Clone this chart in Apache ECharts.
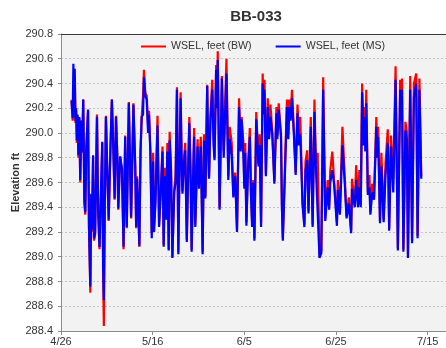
<!DOCTYPE html>
<html>
<head>
<meta charset="utf-8">
<script src="https://cdn.jsdelivr.net/npm/echarts@6/dist/echarts.min.js"></script>
<style>
  html, body { margin: 0; padding: 0; background: #ffffff; }
  #chart { width: 446px; height: 348px; }
</style>
</head>
<body>
<div id="chart"></div>
<script>
// Water surface elevation record, BB-033 (days counted from 4/26)
const dayOffsets = [
  2.3, 2.55, 2.7, 2.85, 3.0, 3.15, 3.3, 3.45, 3.6, 3.8, 4.0, 4.2, 4.45, 4.6, 4.85,
  5.1, 5.3, 5.5, 5.9, 6.1, 6.4, 6.6, 6.75, 7.0, 7.2, 7.45, 7.85, 8.1, 8.4, 8.7,
  9.0, 9.2, 9.35, 9.55, 9.8, 10.1, 10.4, 10.8, 11.1, 11.4, 11.7, 12.0, 12.3, 12.5, 12.9,
  13.3, 13.65, 14.0, 14.35, 14.8, 15.3, 15.8, 16.2, 16.4, 16.6, 16.9, 17.1, 17.35, 17.6, 17.9,
  18.1, 18.4, 18.7, 19.0, 19.2, 19.5, 19.8,
  20.1, 20.3, 20.6, 21.06, 21.4, 21.8, 22.15, 22.4, 22.7, 22.95, 23.2, 23.5, 23.7, 24.0, 24.3,
  24.7, 25.0, 25.3, 25.6, 25.85, 26.1, 26.35, 26.5, 26.8, 27.1, 27.45, 27.75, 28.0, 28.3, 28.5,
  28.8, 29.05, 29.3, 29.8, 30.1, 30.5, 30.9, 31.2, 31.5, 31.9, 32.1, 32.3, 32.6, 33.0, 33.3,
  33.5, 33.85, 34.05, 34.2, 34.6, 35.1, 35.5, 36.1, 36.5, 36.8, 37.25, 37.6, 38.0, 38.4, 38.85,
  39.2, 39.4, 39.8, 40.0,
  40.2, 40.45, 40.8, 41.2, 41.45, 41.7, 41.95, 42.2, 42.6, 43.1, 43.35, 43.65, 44.0, 44.2, 44.4,
  44.7, 45.1, 45.4, 45.7, 46.1, 46.55, 47.0, 47.2, 47.5, 48.0, 48.2, 48.4, 48.8, 49.3, 49.6,
  49.8, 50.1, 50.4, 50.8, 51.2, 51.6, 51.9, 52.2, 52.7, 53.1, 53.35, 53.7, 54.0, 54.5, 54.9,
  55.3, 55.6, 56.0, 56.4, 56.8, 57.2, 57.65, 58.2, 58.5, 58.75, 59.2, 59.6, 60.2,
  60.4, 60.85, 61.4, 61.9, 62.3, 62.8, 63.3, 63.5, 63.76, 64.1, 64.4, 64.8, 65.1, 65.4, 65.7,
  66.0, 66.2, 66.4, 66.6, 66.95, 67.3, 67.5, 67.9, 68.3, 68.8, 69.0, 69.2, 69.6, 69.9, 70.4,
  70.8, 71.3, 71.6, 72.0, 72.5, 73.0, 73.5, 74.0, 74.2, 74.4, 74.7, 75.15, 75.45, 75.7, 76.2,
  76.6, 77.0, 77.5, 77.8, 78.2, 78.6
];

// WSEL, feet (BW)
const wselBW = [
  290.27, 290.10, 290.42, 290.13, 290.46, 290.08, 290.18, 289.92, 290.14, 289.80, 290.12, 289.60, 290.08, 289.84, 290.27,
  289.44, 289.34, 289.85, 290.18, 289.24, 288.71, 289.50, 289.20, 289.81, 289.13, 289.18, 290.15, 289.36, 289.06, 289.48,
  289.92, 288.80, 288.44, 289.38, 290.14, 289.68, 289.29, 289.88, 290.27, 289.88, 289.46, 290.14, 289.78, 289.38, 289.81,
  289.70, 289.06, 289.98, 289.23, 290.25, 289.31, 290.24, 289.72, 289.23, 289.65, 289.32, 289.08, 289.85, 290.12, 290.30,
  290.51, 290.32, 290.30, 290.05, 290.18, 289.85, 289.19,
  289.84, 289.25, 289.45, 290.14, 289.26, 289.56, 289.89, 289.10, 289.72, 289.32, 289.92, 289.06, 290.01, 289.72, 289.00,
  289.54, 289.65, 290.37, 289.04, 289.72, 290.33, 289.72, 289.53, 289.78, 289.92, 289.14, 289.72, 290.13, 289.62, 289.06,
  289.62, 290.04, 289.26, 289.95, 289.58, 289.97, 289.04, 289.99, 289.49, 290.39, 289.92, 289.65, 290.12, 290.43, 289.95,
  289.80, 290.55, 290.25, 290.66, 289.40, 290.46, 289.85, 290.60, 289.65, 290.05, 289.92, 289.50, 289.68, 289.22, 290.28,
  289.88, 290.13, 289.92, 289.57,
  289.92, 289.28, 289.72, 290.04, 289.52, 289.27, 289.62, 289.15, 290.17, 289.75, 289.99, 289.27, 290.48, 290.18, 290.43,
  289.67, 290.28, 289.98, 290.23, 290.00, 289.61, 290.21, 289.98, 290.24, 289.99, 289.42, 289.15, 289.65, 290.27, 290.00,
  290.27, 290.15, 290.35, 290.02, 289.68, 290.23, 289.95, 290.13, 289.44, 289.26, 289.77, 289.86, 289.37, 290.13, 289.26,
  290.27, 289.75, 289.84, 289.01, 289.05, 290.45, 289.31, 289.62, 289.41, 289.70, 289.85, 289.60, 289.28,
  289.62, 289.36, 290.05, 289.65, 289.33, 289.48, 289.21, 289.63, 289.63, 289.42, 289.74, 289.42, 289.70, 289.42, 290.40,
  289.95, 290.21, 289.90, 290.35, 289.52, 289.66, 289.36, 289.59, 289.48, 290.13, 289.85, 290.05, 289.29, 289.84, 289.30,
  289.75, 290.03, 289.23, 289.98, 289.63, 290.54, 289.07, 290.43, 290.15, 290.44, 289.06, 290.09, 290.01, 289.01, 290.46,
  289.13, 290.40, 290.48, 289.17, 290.44, 289.65
];

// WSEL, feet (MS)
const wselMS = [
  290.26, 290.12, 290.56, 290.15, 290.52, 290.10, 290.20, 289.94, 290.15, 289.82, 290.13, 289.62, 290.10, 289.85, 290.27,
  289.45, 289.36, 289.86, 290.19, 289.26, 288.76, 289.51, 289.22, 289.82, 289.15, 289.20, 290.13, 289.38, 289.08, 289.50,
  289.93, 288.90, 288.65, 289.40, 290.13, 289.70, 289.30, 289.90, 290.27, 289.90, 289.47, 290.13, 289.80, 289.39, 289.81,
  289.71, 289.08, 289.97, 289.24, 290.24, 289.32, 290.23, 289.73, 289.24, 289.63, 289.35, 289.09, 289.84, 290.13, 290.15,
  290.45, 290.30, 290.27, 290.00, 290.15, 289.84, 289.15,
  289.77, 289.20, 289.43, 290.06, 289.24, 289.55, 289.85, 289.08, 289.65, 289.30, 289.85, 289.05, 289.94, 289.70, 288.99,
  289.52, 289.60, 290.35, 289.02, 289.70, 290.28, 289.70, 289.51, 289.75, 289.86, 289.12, 289.70, 290.08, 289.60, 289.04,
  289.60, 289.97, 289.24, 289.89, 289.55, 289.89, 289.02, 289.94, 289.47, 290.38, 289.90, 289.63, 290.10, 290.35, 289.90,
  289.78, 290.51, 290.20, 290.59, 289.38, 290.44, 289.80, 290.48, 289.62, 289.95, 289.82, 289.48, 289.65, 289.20, 290.21,
  289.85, 290.11, 289.81, 289.55,
  289.84, 289.25, 289.70, 289.97, 289.50, 289.24, 289.60, 289.13, 290.11, 289.73, 289.90, 289.24, 290.40, 290.15, 290.35,
  289.65, 290.21, 289.95, 290.13, 289.99, 289.59, 290.16, 289.95, 290.19, 289.97, 289.40, 289.13, 289.60, 290.21, 289.95,
  290.21, 290.10, 290.28, 290.00, 289.66, 290.16, 289.90, 289.99, 289.42, 289.24, 289.70, 289.78, 289.35, 290.05, 289.24,
  290.17, 289.73, 289.73, 288.99, 289.03, 290.35, 289.29, 289.56, 289.38, 289.60, 289.70, 289.58, 289.25,
  289.54, 289.34, 289.90, 289.60, 289.31, 289.43, 289.19, 289.55, 289.56, 289.40, 289.62, 289.40, 289.56, 289.40, 290.33,
  289.90, 290.13, 289.85, 290.24, 289.50, 289.56, 289.34, 289.52, 289.46, 290.05, 289.80, 289.97, 289.27, 289.73, 289.28,
  289.66, 289.92, 289.21, 289.89, 289.52, 290.43, 289.05, 290.35, 290.10, 290.35, 289.04, 290.02, 289.94, 288.99, 290.35,
  289.11, 290.29, 290.40, 289.15, 290.35, 289.63
];

// Date tick labels, one every 20 days from 4/26
const tickLabels = ['4/26', '5/16', '6/5', '6/25', '7/15'];
const seriesNames = ['WSEL, feet (BW)', 'WSEL, feet (MS)'];

const FONT = "'Liberation Sans', Arial, sans-serif";

const pairs = (vals) => dayOffsets.map((d, i) => [d, vals[i]]);

const chart = echarts.init(document.getElementById('chart'), null, { renderer: 'canvas' });

chart.setOption({
  animation: false,
  backgroundColor: '#ffffff',
  title: {
    text: 'BB-033',
    left: 256,
    textAlign: 'center',
    top: 9,
    padding: 0,
    textStyle: { fontFamily: FONT, fontSize: 15, fontWeight: 'bold', color: '#333333' }
  },
  legend: {
    data: seriesNames.map((n) => ({ name: n, icon: 'rect' })),
    left: 141,
    top: 41,
    padding: 0,
    itemWidth: 25,
    itemHeight: 2,
    itemGap: 24,
    textStyle: { fontFamily: FONT, fontSize: 10.6, color: '#333333' }
  },
  grid: {
    left: 61, right: 0, top: 34, bottom: 17,
    outerBoundsMode: 'none',
    containLabel: false,
    show: true, backgroundColor: '#f2f2f2', borderWidth: 0
  },
  xAxis: [
    {
      type: 'value',
      min: 0, max: 84, interval: 20,
      axisLine: { show: true, lineStyle: { color: '#8c8c8c', width: 1 } },
      axisTick: { show: true, length: 4, lineStyle: { color: '#8c8c8c' } },
      axisLabel: {
        fontFamily: FONT, fontSize: 11, color: '#333333', margin: 5,
        showMaxLabel: false,
        formatter: (v) => (v % 20 === 0 ? tickLabels[v / 20] : '')
      },
      splitLine: { show: false }
    },
    {
      type: 'value',
      position: 'top',
      min: 0, max: 84,
      axisLine: { show: true, lineStyle: { color: '#3a3a3a', width: 1 } },
      axisTick: { show: false },
      axisLabel: { show: false },
      splitLine: { show: false }
    }
  ],
  yAxis: {
    type: 'value',
    min: 288.4, max: 290.8, interval: 0.2,
    name: 'Elevation ft',
    nameLocation: 'middle',
    nameGap: 40,
    nameMoveOverlap: false,
    nameTextStyle: { fontFamily: FONT, fontSize: 11, fontWeight: 'bold', color: '#333333' },
    axisLine: { show: true, lineStyle: { color: '#8c8c8c', width: 1 } },
    axisTick: { show: true, length: 3, lineStyle: { color: '#8c8c8c' } },
    axisLabel: {
      fontFamily: FONT, fontSize: 11, color: '#333333', margin: 8,
      formatter: (v) => v.toFixed(1)
    },
    splitLine: { show: true, lineStyle: { color: '#c4c4c4', type: [2, 2], width: 1 } }
  },
  series: [
    {
      name: seriesNames[0],
      type: 'line',
      data: pairs(wselBW),
      showSymbol: false,
      color: '#ff0000',
      lineStyle: { color: '#ff0000', width: 2.2 }
    },
    {
      name: seriesNames[1],
      type: 'line',
      data: pairs(wselMS),
      showSymbol: false,
      color: '#0000ff',
      lineStyle: { color: '#0000ff', width: 2.2 }
    }
  ]
});
</script>
</body>
</html>
